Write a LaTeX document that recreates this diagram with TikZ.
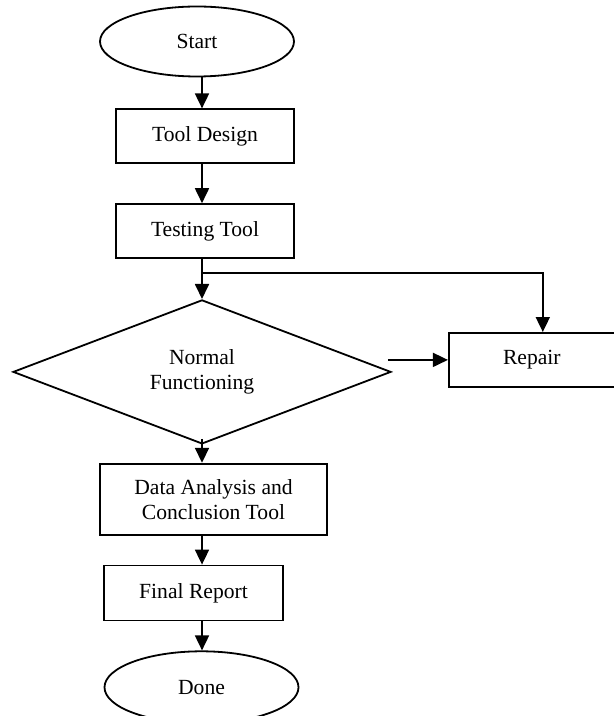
\documentclass[tikz,border=0pt]{standalone}
\usepackage{fontspec}
\setmainfont{Liberation Serif}
\usepackage{tikz}
\usetikzlibrary{shapes.geometric,arrows.meta,positioning}

\begin{document}
\begin{tikzpicture}[
    x=1pt, y=1pt,
    node distance=16pt,
    term/.style={ellipse, draw, line width=0.9pt, minimum width=97pt, minimum height=35pt, inner sep=0pt, font=\fontsize{10.8}{12.5}\selectfont},
    block/.style={rectangle, draw, line width=0.9pt, minimum width=89pt, minimum height=27pt, align=center, inner sep=0pt, font=\fontsize{10.8}{12.5}\selectfont},
    decision/.style={diamond, aspect=2.6, draw, line width=0.9pt, minimum width=189pt, minimum height=72pt, align=center, inner sep=0pt, font=\fontsize{10.8}{12.5}\selectfont},
    arrow/.style={-{Triangle[length=7.5pt,width=7pt]}, line width=0.9pt}
]

\useasboundingbox (0,0) rectangle (307,-358);

% Start
\node[term] (start) at (98.5,-20.75) {Start};

% Tool Design
\node[block, below=15.5pt of start, xshift=4pt] (design) {Tool Design};

% Testing Tool
\node[block, below=19.5pt of design] (testing) {Testing Tool};

% Normal Functioning
\node[decision, below=20pt of testing, xshift=-1.5pt] (normal) {Normal\\Functioning};

% Repair
\node[block, right=28pt of normal, yshift=6pt, minimum width=83pt] (repair) {Repair};

% Data Analysis
\node[block, below=9pt of normal, xshift=5.75pt, minimum width=113.5pt, minimum height=35.5pt] (analysis) {Data Analysis and\\Conclusion Tool};

% Final Report
\node[block, below=14.5pt of analysis, xshift=-10pt, minimum width=89.5pt, minimum height=27.5pt] (report) {Final Report};

% Done
\node[term, below=14.5pt of report, xshift=4pt, minimum height=36pt] (done) {Done};

% Arrow column
\coordinate (col) at (101,0);
\path (testing.south -| col) ++(0,-7pt) coordinate (split);

% Arrows
\draw[arrow] (start.south -| col) -- (design.north -| col);
\draw[arrow] (design.south -| col) -- (testing.north -| col);
\draw[arrow] (testing.south -| col) -- (normal.north);
\draw[arrow] (split) -| ([xshift=5.5pt]repair.north);
\draw[arrow] ([xshift=-2pt]normal.east |- repair.west) -- (repair.west);
\draw[arrow] ([yshift=3pt]normal.south) -- (analysis.north -| col);
\draw[arrow] (analysis.south -| col) -- (report.north -| col);
\draw[arrow] (report.south -| col) -- (done.north -| col);

\end{tikzpicture}
\end{document}
